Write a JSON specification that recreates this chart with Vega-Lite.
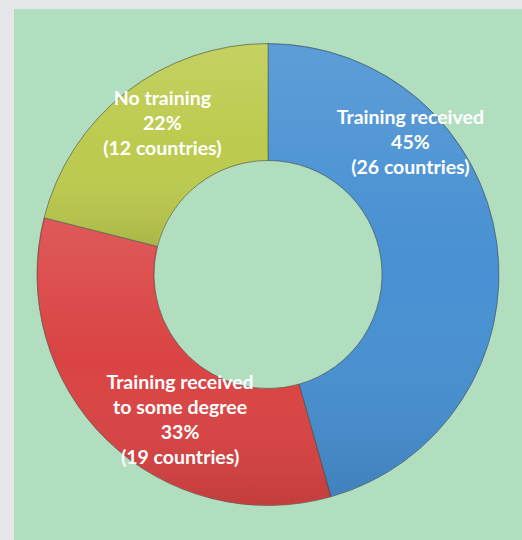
{
  "$schema": "https://vega.github.io/schema/vega-lite/v6.json",
  "width": 508,
  "height": 531,
  "autosize": {"type": "none"},
  "padding": {"left": 14, "top": 9, "right": 0, "bottom": 0},
  "background": "#e5e6e8",
  "view": {"fill": "#b2dec0", "stroke": null},
  "config": {"view": {"fill": "#b2dec0", "stroke": null}},
  "data": {
    "values": [
      {"category": "Training received", "countries": 26, "label": ["Training received", "45%", "(26 countries)"]},
      {"category": "Training received to some degree", "countries": 19, "label": ["Training received", "to some degree", "33%", "(19 countries)"]},
      {"category": "No training", "countries": 12, "label": ["No training", "22%", "(12 countries)"]}
    ]
  },
  "encoding": {
    "theta": {"field": "countries", "type": "quantitative", "stack": true},
    "order": {"field": "countries", "type": "quantitative", "sort": "descending"}
  },
  "layer": [
    {
      "mark": {"type": "arc", "outerRadius": 231, "innerRadius": 114, "stroke": "#4a4a4a", "strokeOpacity": 0.6, "strokeWidth": 1},
      "encoding": {
        "color": {
          "field": "category",
          "type": "nominal",
          "scale": {
            "domain": ["Training received", "Training received to some degree", "No training"],
            "range": ["#4790d2", "#da4343", "#bccb4e"]
          },
          "legend": null
        }
      }
    },
    {
      "mark": {
        "type": "arc",
        "outerRadius": 230,
        "innerRadius": 115,
        "strokeWidth": 0,
        "fill": {
          "gradient": "linear",
          "x1": 0, "y1": 0, "x2": 0, "y2": 1,
          "stops": [
            {"offset": 0, "color": "rgba(255,255,255,0.12)"},
            {"offset": 0.5, "color": "rgba(255,255,255,0)"},
            {"offset": 1, "color": "rgba(0,0,0,0.10)"}
          ]
        }
      }
    },
    {
      "mark": {"type": "text", "clip": true, "radius": 172, "dx": -28, "dy": -133, "font": "Lato", "fontWeight": "bold", "fontSize": 19.5, "lineHeight": 25, "color": "white", "align": "center", "baseline": "middle"},
      "encoding": {
        "text": {"condition": {"test": "datum.category === 'Training received'", "field": "label"}, "value": ""}
      }
    },
    {
      "mark": {"type": "text", "clip": true, "radius": 172, "dx": 32, "dy": -15, "font": "Lato", "fontWeight": "bold", "fontSize": 19.5, "lineHeight": 25, "color": "white", "align": "center", "baseline": "middle"},
      "encoding": {
        "text": {"condition": {"test": "datum.category === 'Training received to some degree'", "field": "label"}, "value": ""}
      }
    },
    {
      "mark": {"type": "text", "clip": true, "radius": 172, "dx": 0, "dy": -40, "font": "Lato", "fontWeight": "bold", "fontSize": 19.5, "lineHeight": 25, "color": "white", "align": "center", "baseline": "middle"},
      "encoding": {
        "text": {"condition": {"test": "datum.category === 'No training'", "field": "label"}, "value": ""}
      }
    }
  ]
}
